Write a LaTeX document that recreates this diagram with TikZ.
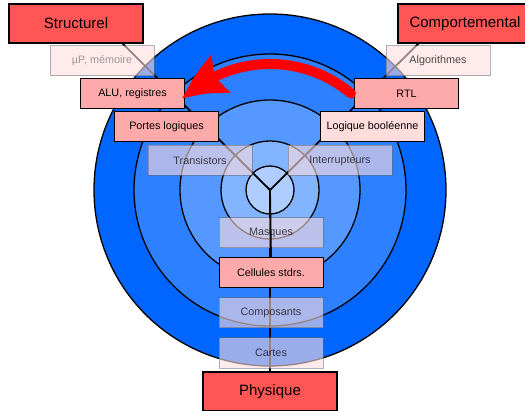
\documentclass[tikz,border=0pt]{standalone}
\usepackage{fontspec}
\setmainfont{Liberation Sans}
\usepackage{tikz}
\usetikzlibrary{arrows.meta, bending, positioning, calc, backgrounds}
\definecolor{ringA}{RGB}{0,102,255}
\definecolor{ringB}{RGB}{45,128,255}
\definecolor{ringC}{RGB}{85,152,255}
\definecolor{ringD}{RGB}{130,180,255}
\definecolor{ringE}{RGB}{175,206,255}
\definecolor{domred}{RGB}{255,85,85}
\definecolor{hotpink}{RGB}{255,170,170}
\definecolor{palepink}{RGB}{255,221,221}
\tikzset{
  dombox/.style={rectangle, draw=black, fill=domred, line width=1.2pt,
                 inner sep=0pt, minimum width=134pt, minimum height=39pt,
                 font=\fontsize{15}{18}\selectfont},
  hot/.style={rectangle, draw=black, fill=hotpink, line width=1pt,
              inner sep=0pt, minimum width=104pt, minimum height=30pt,
              font=\fontsize{10.8}{13}\selectfont},
  pale/.style={hot, fill=palepink},
  ghost/.style={hot, fill=palepink, fill opacity=0.6, draw=black!60,
                draw opacity=0.5, text opacity=0.7},
  disc/.style={draw=black, line width=1.3pt},
  arm/.style={draw=black, line width=1.8pt},
  sweep/.style={draw=red, line width=10pt, line cap=round,
                -{Stealth[length=46pt, width=40pt, inset=6pt, bend]}},
}
\begin{document}
\begin{tikzpicture}[x=1pt, y=1pt]
  \clip (0,0) rectangle (525,410);
  \coordinate (ctr) at (270,220);

  % the three domains
  \node[dombox] (struct) at (76,386.5) {Structurel};
  \node[dombox] (comp) at (465,386.5) {Comportemental};
  \node[dombox] (phys) at (270,18.5) {Physique};

  % structural axis
  \node[ghost, text=black!55] (mup) at (102,349) {µP, mémoire};
  \node[hot] (alu) at (132.5,316) {ALU, registres};
  \node[hot] (gates) at (166.5,283) {Portes logiques};
  \node[ghost] (trans) at (200,249.5) {Transistors};

  % behavioural axis
  \node[ghost] (algo) at (438,349) {Algorithmes};
  \node[hot] (rtl) at (406.5,316) {RTL};
  \node[pale] (bool) at (372.5,283) {Logique booléenne};
  \node[ghost] (switch) at (340,249.5) {Interrupteurs};

  % physical axis
  \node[ghost] (masq) at (271,177) {Masques};
  \node[hot, below=9pt of masq] (cells) {Cellules stdrs.};
  \node[ghost, below=9pt of cells] (parts) {Composants};
  \node[ghost, below=9pt of parts] (cards) {Cartes};

  \begin{scope}[on background layer]
    \foreach \r/\c in {176/ringA, 136/ringB, 90/ringC, 49/ringD, 24/ringE}
      \draw[disc, fill=\c] (ctr) circle[radius=\r];
    \draw[arm] (ctr) -- ($(struct.south east)+(-21,0)$);
    \draw[arm] (ctr) -- ($(comp.south west)+(21,0)$);
    \draw[arm] (ctr) -- (phys.north);
  \end{scope}
  \draw[arm] (ctr) -- (cells.north);

  \coordinate (sweepFrom) at ($(ctr)+(50:126)$);
  \draw[sweep] (sweepFrom) arc[start angle=50, end angle=134, radius=126];
\end{tikzpicture}
\end{document}
